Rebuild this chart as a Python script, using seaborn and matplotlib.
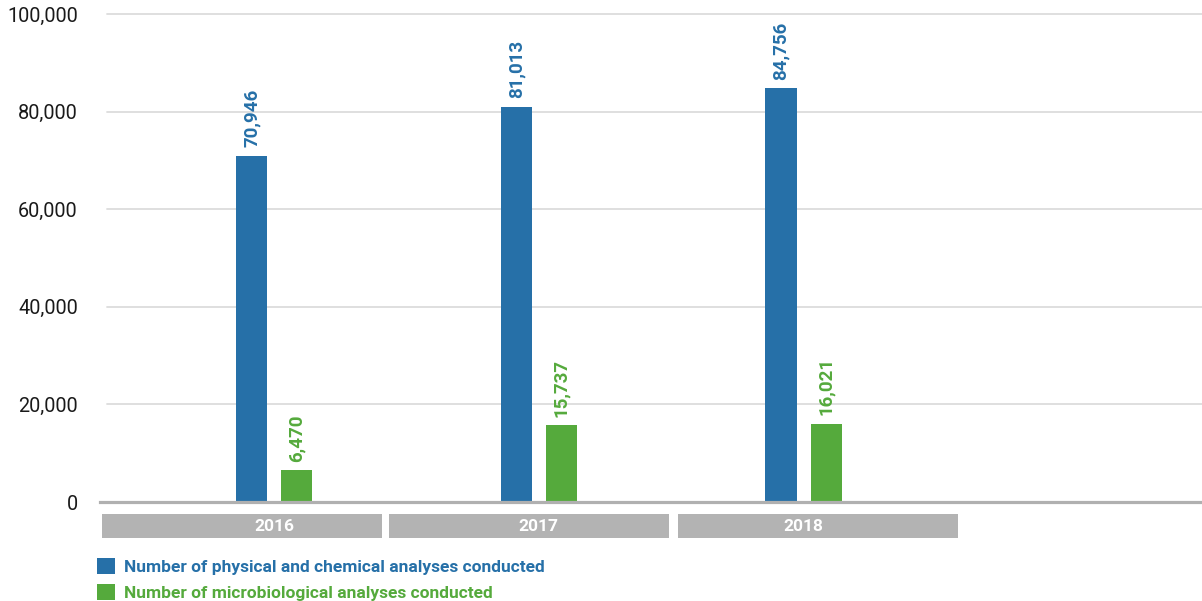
import matplotlib
matplotlib.use("Agg")
import matplotlib.pyplot as plt
from matplotlib.patches import Rectangle, Patch
from matplotlib.ticker import FuncFormatter
import seaborn as sns
import pandas as pd

# Data
years = ["2016", "2017", "2018"]
series_names = [
    "Number of physical and chemical analyses conducted",
    "Number of microbiological analyses conducted",
]
physical_chemical = [70946, 81013, 84756]
microbiological = [6470, 15737, 16021]
y_ticks = [0, 20000, 40000, 60000, 80000, 100000]

BLUE = "#2670a8"
GREEN = "#55aa3c"
GRID = "#dcdcdc"
BASE = "#b0b0b0"
BOX = "#b3b3b3"

df = pd.DataFrame({
    "year": years * 2,
    "count": physical_chemical + microbiological,
    "series": [series_names[0]] * 3 + [series_names[1]] * 3,
})

sns.set_theme(style="white")
plt.rcParams["font.family"] = ["Roboto", "DejaVu Sans"]

W, H = 1202, 601
fig = plt.figure(figsize=(W / 100, H / 100), dpi=100)
ax = fig.add_axes([100 / W, (H - 502) / H, (W - 100) / W, (502 - 5) / H])
ax.patch.set_facecolor("none")

sns.barplot(
    data=df, x="year", y="count", hue="series", order=years,
    hue_order=series_names, palette=[BLUE, GREEN],
    width=0.34, gap=0.311, saturation=1, linewidth=0, edgecolor="none",
    legend=False, ax=ax, zorder=3,
)

ax.set_xlim(-0.657, 3.505)
ax.set_ylim(0, 100000 * (502 - 5) / (502 - 14))
ax.set_yticks(y_ticks)
ax.yaxis.set_major_formatter(FuncFormatter(lambda v, p: f"{v:,.0f}"))
ax.set_xlabel("")
ax.set_ylabel("")

for v in y_ticks[1:]:
    ax.axhline(v, xmin=7 / (W - 100), color=GRID, lw=1.3, zorder=1)

for s in ["top", "right", "left"]:
    ax.spines[s].set_visible(False)
ax.spines["bottom"].set_color(BASE)
ax.spines["bottom"].set_linewidth(2.3)
ax.spines["bottom"].set_zorder(4)

ax.tick_params(axis="y", length=0, pad=16, labelsize=14.3, labelcolor="#1a1a1a")
ax.tick_params(axis="x", length=0, pad=12, labelsize=12.5, labelcolor="white")
for t in ax.get_xticklabels():
    t.set_fontweight("bold")

# Value labels above each bar
for cont, col in zip(ax.containers, [BLUE, GREEN]):
    ax.bar_label(cont, labels=[f"{b.get_height():,.0f}" for b in cont],
                 rotation=90, padding=6, color=col, fontsize=13.5,
                 fontweight="bold")

# Grey year bands under the axis
band_lefts = [102, 389, 678]
for x0 in band_lefts:
    fig.patches.append(Rectangle((x0 / W, (H - 538) / H), 280 / W, 24 / H,
                                 transform=fig.transFigure, facecolor=BOX,
                                 edgecolor="none", zorder=-1))

# Legend
handles = [Patch(facecolor=BLUE, edgecolor="none"),
           Patch(facecolor=GREEN, edgecolor="none")]
leg = fig.legend(handles, series_names, loc="upper left",
                 bbox_to_anchor=(97 / W, 1 - 558 / H),
                 bbox_transform=fig.transFigure, frameon=False,
                 fontsize=12.5, handlelength=1.04, handleheight=1.04,
                 handletextpad=0.5, labelspacing=0.55, borderpad=0,
                 borderaxespad=0)
for txt, col in zip(leg.get_texts(), [BLUE, GREEN]):
    txt.set_color(col)
    txt.set_fontweight("bold")

fig.savefig("out.png", dpi=100)
